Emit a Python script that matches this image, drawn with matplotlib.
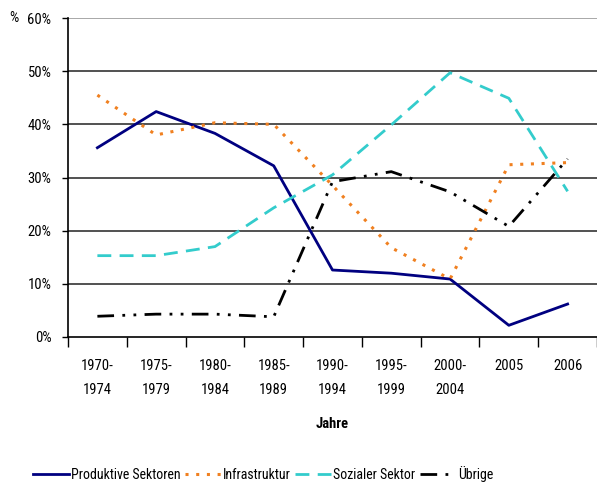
import matplotlib
matplotlib.use("Agg")
import matplotlib.pyplot as plt
import numpy as np

plt.rcParams['font.family'] = ['Roboto Condensed', 'Liberation Sans', 'DejaVu Sans']

# categories
years = ["1970-\n1974", "1975-\n1979", "1980-\n1984", "1985-\n1989", "1990-\n1994",
         "1995-\n1999", "2000-\n2004", "2005", "2006"]

# shares in percent
produktive = [35.6, 42.4, 38.3, 32.2, 12.6, 12.0, 10.9, 2.2, 6.2]
infrastruktur = [45.5, 38.0, 40.3, 40.0, 28.5, 16.8, 10.9, 32.4, 32.8]
sozialer = [15.3, 15.3, 17.0, 24.3, 30.5, 39.9, 49.7, 44.9, 27.4]
uebrige = [3.9, 4.3, 4.3, 3.8, 29.2, 31.1, 27.3, 20.8, 33.5]

fig = plt.figure(figsize=(5.97, 4.83), dpi=100)
ax = fig.add_axes([68 / 597, 1 - 337 / 483, 529 / 597, 319 / 483])

x = np.arange(len(years))

ax.plot(x, produktive, color="#000080", lw=2.0, label="Produktive Sektoren")
ax.plot(x, infrastruktur, color="#F08020", lw=2.2, linestyle=(0, (1, 2.5)),
        label="Infrastruktur")
ax.plot(x, sozialer, color="#33CCCC", lw=2.0, linestyle=(0, (5, 3)),
        label="Sozialer Sektor")
ax.plot(x, uebrige, color="black", lw=2.0, linestyle=(0, (6, 3, 1, 3, 1, 3)),
        label="Übrige")

ax.set_xlim(-0.5, len(years) - 0.5)
ax.set_ylim(0, 60)
ax.set_yticks(np.arange(0, 61, 10))
ax.set_yticklabels([f"{v}%" for v in range(0, 61, 10)], fontsize=10.5)
for v in range(10, 61, 10):
    ax.axhline(v, color="#999999" if v == 60 else "#333333", lw=1.2, zorder=0)

ax.set_xticks(x)
ax.set_xticklabels(years, fontsize=10.5, linespacing=1.9)
ax.set_xticks(np.arange(-0.5, len(years), 1), minor=True)
ax.tick_params(axis="x", which="major", length=0, pad=16)
ax.tick_params(axis="x", which="minor", length=7, width=1.0, color="black")
ax.tick_params(axis="y", length=4, width=1.0, pad=8)

for s in ["top", "right"]:
    ax.spines[s].set_visible(False)
ax.spines["left"].set_color("black")
ax.spines["bottom"].set_color("black")
ax.spines["left"].set_linewidth(1.2)
ax.spines["bottom"].set_linewidth(1.2)

ax.set_xlabel("Jahre", fontsize=10.5, fontweight="bold", labelpad=14)
fig.text(14 / 597, 1 - 18 / 483, "%", fontsize=10.5, ha="center", va="center")

fig.legend(loc="center", bbox_to_anchor=(263 / 597, 1 - 474 / 483), ncol=4, frameon=False,
           fontsize=10, handlelength=2.6, handletextpad=0.15, columnspacing=0.3)

fig.savefig("out.png", dpi=100)
